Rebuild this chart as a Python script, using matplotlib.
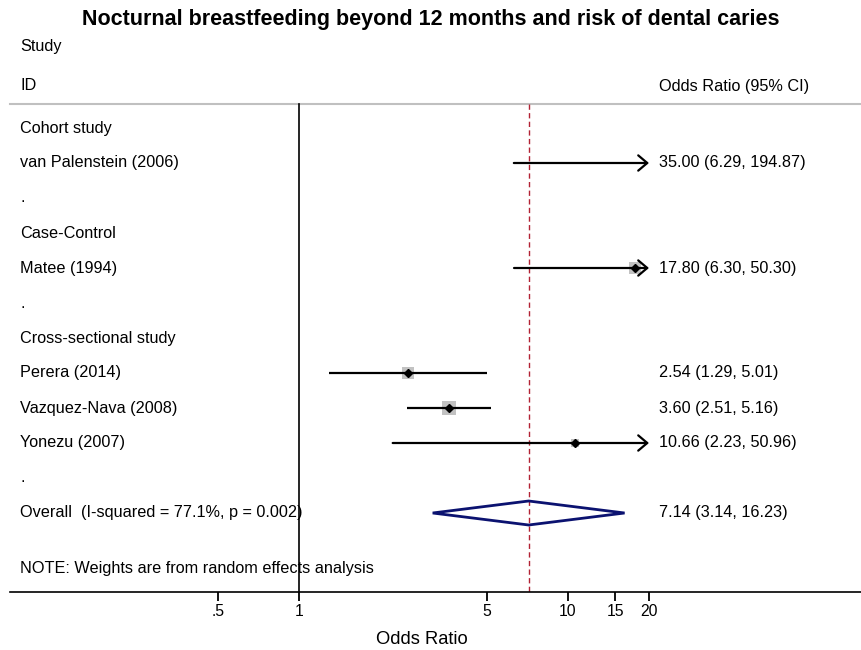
import numpy as np
import matplotlib
matplotlib.use("Agg")
import matplotlib.pyplot as plt
import matplotlib.transforms as mtransforms
from matplotlib.patches import Polygon

# ---------------- data ----------------
title = "Nocturnal breastfeeding beyond 12 months and risk of dental caries"
row_labels = ["Cohort study", "van Palenstein (2006)", ".",
              "Case-Control", "Matee (1994)", ".",
              "Cross-sectional study", "Perera (2014)", "Vazquez-Nava (2008)", "Yonezu (2007)", ".",
              "Overall  (I-squared = 77.1%, p = 0.002)"]
study_rows = [1, 4, 7, 8, 9]
or_vals = [35.00, 17.80, 2.54, 3.60, 10.66]
ci_low = [6.29, 6.30, 1.29, 2.51, 2.23]
ci_high = [194.87, 50.30, 5.01, 5.16, 50.96]
weights = [8.5, 21.6, 28.4, 30.1, 11.4]
overall_row = 11
overall = [7.14, 3.14, 16.23]
note = "NOTE: Weights are from random effects analysis"
xticks = [0.5, 1, 5, 10, 15, 20]
xtick_labels = [".5", "1", "5", "10", "15", "20"]
xlabel = "Odds Ratio"

plt.rcParams['font.family'] = ['Liberation Sans', 'DejaVu Sans']

W, H = 861, 650
fig = plt.figure(figsize=(W / 100, H / 100), dpi=100)

# axes spans from pixel x=10 to 861, y from 0 (top) to 592 (axis line)
ax_left_px, ax_bottom_px = 10, 592
ax = fig.add_axes([ax_left_px / W, (H - ax_bottom_px) / H, (W - ax_left_px) / W, ax_bottom_px / H])

# x: log scale, 1 at px 299, 269 px per decade
px_one, px_dec = 299, 269
xmin = 10 ** ((ax_left_px - px_one) / px_dec)
xmax = 10 ** ((W - px_one) / px_dec)
ax.set_xscale('log')
ax.set_xlim(xmin, xmax)

# y: row r at pixel 128 + 35 r
row0, row_h = 128, 35
ax.set_ylim((ax_bottom_px - row0) / row_h, (0 - row0) / row_h)

def py(px):
    return (px - row0) / row_h

for s in ['top', 'right', 'left']:
    ax.spines[s].set_visible(False)
ax.spines['bottom'].set_linewidth(1.2)
ax.set_yticks([])
ax.set_xticks(xticks)
ax.set_xticklabels(xtick_labels)
ax.xaxis.set_minor_locator(matplotlib.ticker.NullLocator())
ax.tick_params(axis='x', length=6.5, width=1.3, pad=2.5, labelsize=11.3)
ax.set_xlabel(xlabel, fontsize=13.2)
ax.xaxis.set_label_coords((422 - ax_left_px) / (W - ax_left_px), -0.066)

ytop = py(104)
ybot = ax.get_ylim()[0]
xaxis_max = max(xticks)

# header line
ax.plot([xmin, xmax], [ytop, ytop], color='#c0c0c0', lw=1.5, clip_on=False, zorder=1)
# null line
ax.plot([1, 1], [ytop, ybot], color='black', lw=1.2, zorder=2)
# overall dashed line
ax.plot([overall[0], overall[0]], [ytop, ybot], color='#b22234', lw=1.0,
        dashes=(3.8, 2.4), zorder=2)

# studies
for r, o, lo, hi, w in zip(study_rows, or_vals, ci_low, ci_high, weights):
    if o <= xaxis_max:
        ax.plot([o], [r], marker='s', markersize=1.75 * np.sqrt(w), color='#c2c2c2',
                markeredgewidth=0, zorder=3, linestyle='none')
    if hi > xaxis_max:
        ax.annotate('', xy=(xaxis_max, r), xytext=(lo, r),
                    arrowprops=dict(arrowstyle='->,head_length=0.65,head_width=0.55',
                                    lw=1.6, color='black', shrinkA=0, shrinkB=0),
                    zorder=4)
    else:
        ax.plot([lo, hi], [r, r], color='black', lw=1.6, zorder=4, solid_capstyle='butt')
    if o <= xaxis_max:
        ax.plot([o], [r], marker='D', markersize=4.5, color='black', zorder=5,
                linestyle='none')

# overall diamond
dh = 12 / row_h
diamond = Polygon([[overall[1], overall_row], [overall[0], overall_row - dh],
                   [overall[2], overall_row], [overall[0], overall_row + dh]],
                  closed=True, fill=False, edgecolor='#0b1270', lw=2.0, zorder=5)
ax.add_patch(diamond)

# texts
trans = mtransforms.blended_transform_factory(ax.transAxes, ax.transData)
left_x = (20 - ax_left_px) / (W - ax_left_px)
right_x = (659 - ax_left_px) / (W - ax_left_px)
fs = 11.7
ax.text(left_x, py(46), "Study", transform=trans, fontsize=fs, va='center', ha='left')
ax.text(left_x, py(86), "ID", transform=trans, fontsize=fs, va='center', ha='left')
ax.text(right_x, py(86), "Odds Ratio (95% CI)", transform=trans, fontsize=fs, va='center', ha='left')
for r, lab in enumerate(row_labels):
    ax.text(left_x, r, lab, transform=trans, fontsize=fs, va='center', ha='left', zorder=6)
for r, o, lo, hi in zip(study_rows, or_vals, ci_low, ci_high):
    ax.text(right_x, r, f"{o:.2f} ({lo:.2f}, {hi:.2f})", transform=trans, fontsize=fs,
            va='center', ha='left')
ax.text(right_x, overall_row, f"{overall[0]:.2f} ({overall[1]:.2f}, {overall[2]:.2f})",
        transform=trans, fontsize=fs, va='center', ha='left')
ax.text(left_x, py(569), note, transform=trans, fontsize=fs, va='center', ha='left', zorder=6)

fig.text(0.5, 1 - 19 / H, title, ha='center', va='center', fontsize=15.5, fontweight='bold')

fig.savefig("out.png", dpi=100)
